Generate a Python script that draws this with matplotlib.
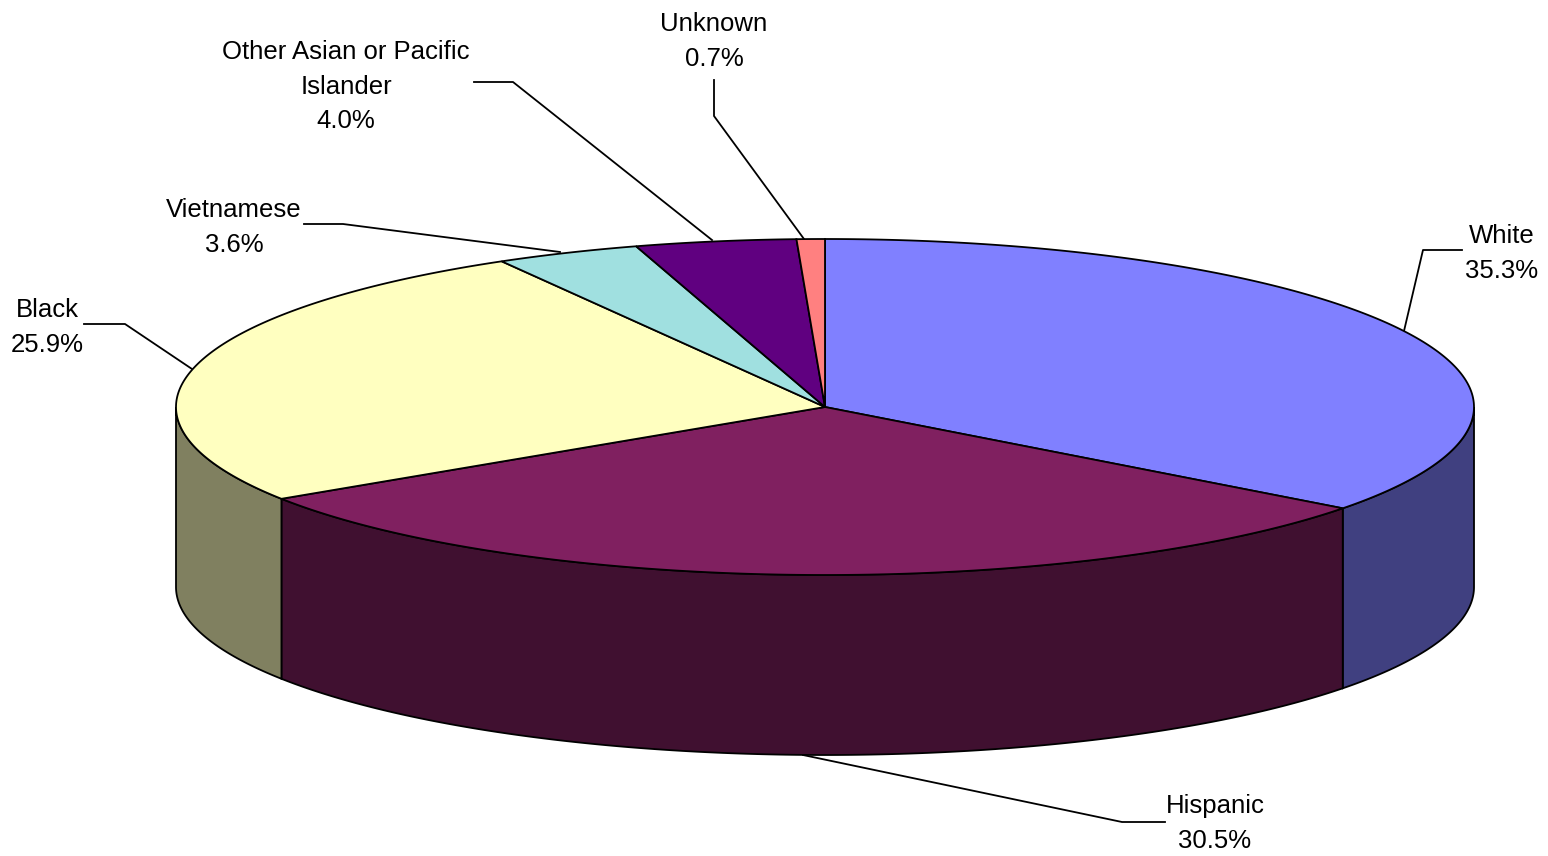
import numpy as np
import matplotlib
matplotlib.use("Agg")
import matplotlib.pyplot as plt
from matplotlib.patches import Polygon

categories = ["White", "Hispanic", "Black", "Vietnamese", "Other Asian or Pacific\nIslander", "Unknown"]
shares = [35.3, 30.5, 25.9, 3.6, 4.0, 0.7]
top_colors = ["#8080FF", "#802060", "#FFFFC0", "#A0E0E0", "#600080", "#FF8080"]
side_colors = ["#404080", "#401030", "#808060", "#506F6F", "#300040", "#804040"]

# pie geometry in image pixels
cx, cy = 825, 407
rx, ry = 649, 168
depth = 180

# label anchor (centre x, top y) and leader line, same order as categories
label_pos = [(1502, 224), (1215, 794), (47, 298), (234, 198), (346, 40), (714, 12)]
leaders = [
    [(1462, 250), (1423, 250), (1404, 331)],
    [(1165, 822), (1122, 822), (803, 755)],
    [(84, 324), (125, 324), (192, 369)],
    [(304, 224), (343, 224), (560, 252)],
    [(474, 82), (513, 82), (712, 240)],
    [(714, 80), (714, 116), (804, 239)],
]


def ellipse(a0, a1, dy=0):
    # angles in degrees, clockwise from 12 o'clock
    t = np.radians(np.linspace(a0, a1, max(int(abs(a1 - a0) * 2), 2)))
    return np.column_stack([cx + rx * np.sin(t), cy - ry * np.cos(t) + dy])


fig = plt.figure(figsize=(15.48, 8.56), dpi=100)
ax = fig.add_axes([0, 0, 1, 1])
ax.set_xlim(0, 1548)
ax.set_ylim(856, 0)
ax.axis("off")

edges = np.concatenate([[0], np.cumsum(shares)]) / sum(shares) * 360

for i in range(len(shares)):
    a0, a1 = edges[i], edges[i + 1]
    # only the part of the rim facing the viewer gets a wall
    lo, hi = max(a0, 90), min(a1, 270)
    if hi > lo:
        top = ellipse(lo, hi)
        bottom = ellipse(hi, lo, depth)
        ax.add_patch(Polygon(np.vstack([top, bottom]), closed=True, fc=side_colors[i], ec="black", lw=1.3, zorder=2))
    wedge = np.vstack([[(cx, cy)], ellipse(a0, a1)])
    ax.add_patch(Polygon(wedge, closed=True, fc=top_colors[i], ec="black", lw=1.3, zorder=3))

for pts in leaders:
    xs, ys = zip(*pts)
    ax.plot(xs, ys, color="black", lw=1.3, zorder=1)

for name, val, (x, y) in zip(categories, shares, label_pos):
    ax.text(x, y, f"{name}\n{val:.1f}%", ha="center", va="top", fontsize=18.5,
            family="Liberation Sans", linespacing=1.56, color="black")

fig.savefig("out.png", dpi=100)
